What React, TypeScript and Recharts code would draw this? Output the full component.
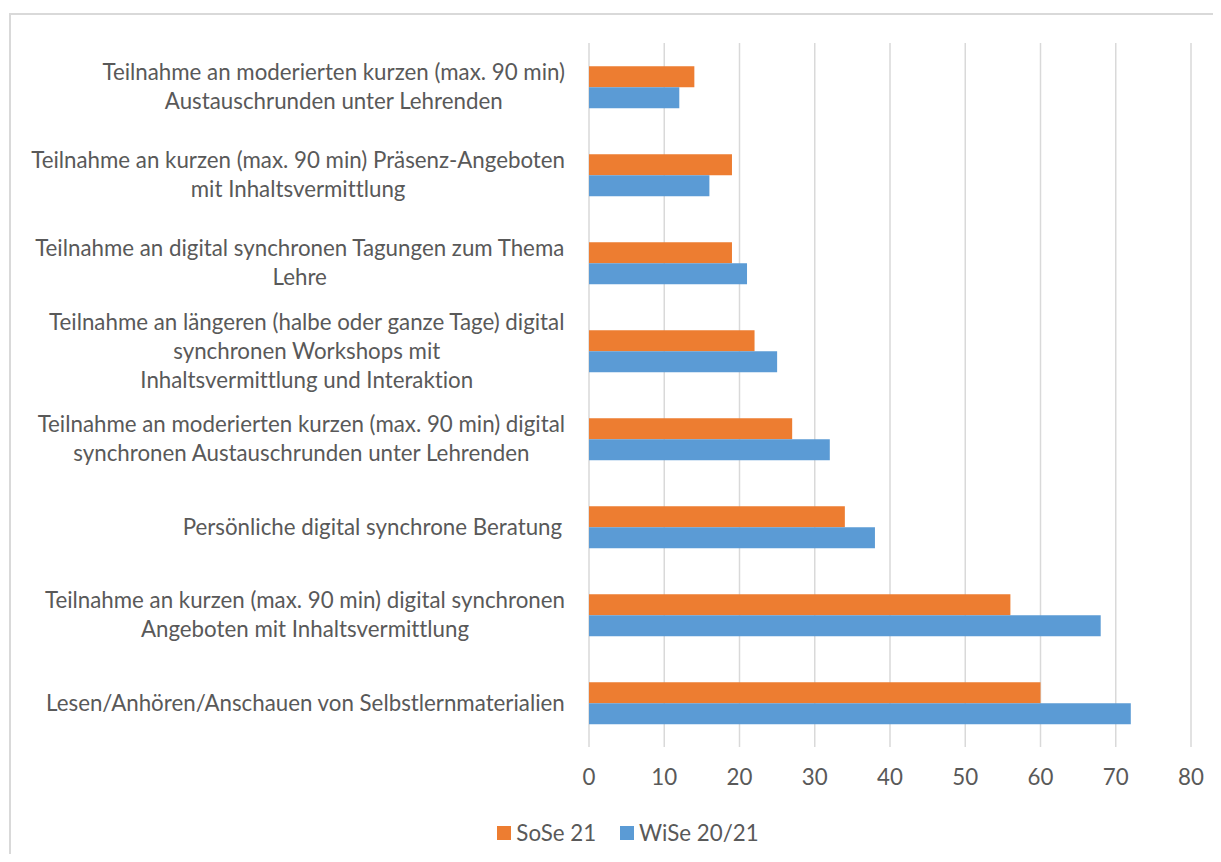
import React from 'react';
import { BarChart, Bar, XAxis, YAxis, CartesianGrid, Legend } from 'recharts';

const categoryLines: string[][] = [
  ['Teilnahme an moderierten kurzen (max. 90 min)', 'Austauschrunden unter Lehrenden'],
  ['Teilnahme an kurzen (max. 90 min) Präsenz-Angeboten', 'mit Inhaltsvermittlung'],
  ['Teilnahme an digital synchronen Tagungen zum Thema', 'Lehre'],
  ['Teilnahme an längeren (halbe oder ganze Tage) digital', 'synchronen Workshops mit', 'Inhaltsvermittlung und Interaktion'],
  ['Teilnahme an moderierten kurzen (max. 90 min) digital', 'synchronen Austauschrunden unter Lehrenden'],
  ['Persönliche digital synchrone Beratung '],
  ['Teilnahme an kurzen (max. 90 min) digital synchronen', 'Angeboten mit Inhaltsvermittlung'],
  ['Lesen/Anhören/Anschauen von Selbstlernmaterialien'],
];
const categories = categoryLines.map((l) => l.join(' '));
const sose21 = [14, 19, 19, 22, 27, 34, 56, 60];
const wise2021 = [12, 16, 21, 25, 32, 38, 68, 72];
const xTicks = [0, 10, 20, 30, 40, 50, 60, 70, 80];

const data = categories.map((name, i) => ({ name, sose: sose21[i], wise: wise2021[i] }));
const linesByName: Record<string, string[]> = {};
categories.forEach((c, i) => (linesByName[c] = categoryLines[i]));

const FONT = 'Lato, "Open Sans", sans-serif';
const FS = 22.3;
const TEXT = '#595959';
const NOLIG: React.CSSProperties = { fontVariantLigatures: 'none' };

let ctx: CanvasRenderingContext2D | null = null;
function measure(s: string): number {
  if (!ctx) {
    const c = document.createElement('canvas');
    ctx = c.getContext('2d');
  }
  if (!ctx) return s.length * FS * 0.5;
  ctx.font = `${FS}px Lato`;
  return ctx.measureText(s).width;
}

const YTick = (props: any) => {
  const { x, y, payload } = props;
  const lines = linesByName[payload.value] || [payload.value];
  const maxW = Math.max(...lines.map(measure));
  const cx = x - maxW / 2;
  const lh = 29;
  const start = y - ((lines.length - 1) * lh) / 2;
  return (
    <g>
      {lines.map((ln, i) => (
        <text key={i} x={cx} y={start + i * lh} dy="0.35em" textAnchor="middle" fill={TEXT} fontSize={FS} fontFamily={FONT} style={NOLIG}>
          {ln}
        </text>
      ))}
    </g>
  );
};

const XTick = (props: any) => {
  const { x, y, payload } = props;
  return (
    <text x={x} y={y} dy="0.71em" textAnchor="middle" fill={TEXT} fontSize={FS} fontFamily={FONT}>
      {payload.value}
    </text>
  );
};

const LegendContent = () => (
  <div style={{ display: 'flex', justifyContent: 'center', alignItems: 'center', fontFamily: FONT, fontSize: FS, color: TEXT }}>
    <span style={{ display: 'inline-block', width: 14, height: 14, background: '#ED7D31', marginRight: 5 }} />
    <span style={{ marginRight: 24 }}>SoSe 21</span>
    <span style={{ display: 'inline-block', width: 14, height: 14, background: '#5B9BD5', marginRight: 5 }} />
    <span>WiSe 20/21</span>
  </div>
);

export default function App() {
  return (
    <div style={{ position: 'relative', width: 1205, height: 846, overflow: 'hidden', background: '#fff' }}>
      <div style={{ position: 'absolute', left: 1, top: 5, width: 1400, height: 1000, borderLeft: '2px solid #d9d9d9', borderTop: '2px solid #d9d9d9' }} />
      <div style={{ position: 'absolute', left: 0, top: 0 }}>
        <BarChart
          width={1205}
          height={846}
          data={data}
          layout="vertical"
          margin={{ top: 35, right: 22, left: 0, bottom: 27 }}
          barCategoryGap="26.5%"
          barGap={0}
        >
          <CartesianGrid horizontal={false} vertical={true} stroke="#d9d9d9" strokeWidth={1.5} />
          <XAxis
            type="number"
            domain={[0, 80]}
            ticks={xTicks}
            interval={0}
            axisLine={false}
            tickLine={false}
            tickSize={0}
            tickMargin={22}
            height={50}
            tick={<XTick />}
          />
          <YAxis
            type="category"
            dataKey="name"
            width={581}
            axisLine={false}
            tickLine={false}
            tickSize={0}
            tickMargin={24}
            interval={0}
            tick={<YTick />}
          />
          <Legend verticalAlign="bottom" height={30} content={<LegendContent />} wrapperStyle={{ left: 0, width: 1240, bottom: 5 }} />
          <Bar dataKey="sose" name="SoSe 21" fill="#ED7D31" isAnimationActive={false} />
          <Bar dataKey="wise" name="WiSe 20/21" fill="#5B9BD5" isAnimationActive={false} />
        </BarChart>
      </div>
    </div>
  );
}
